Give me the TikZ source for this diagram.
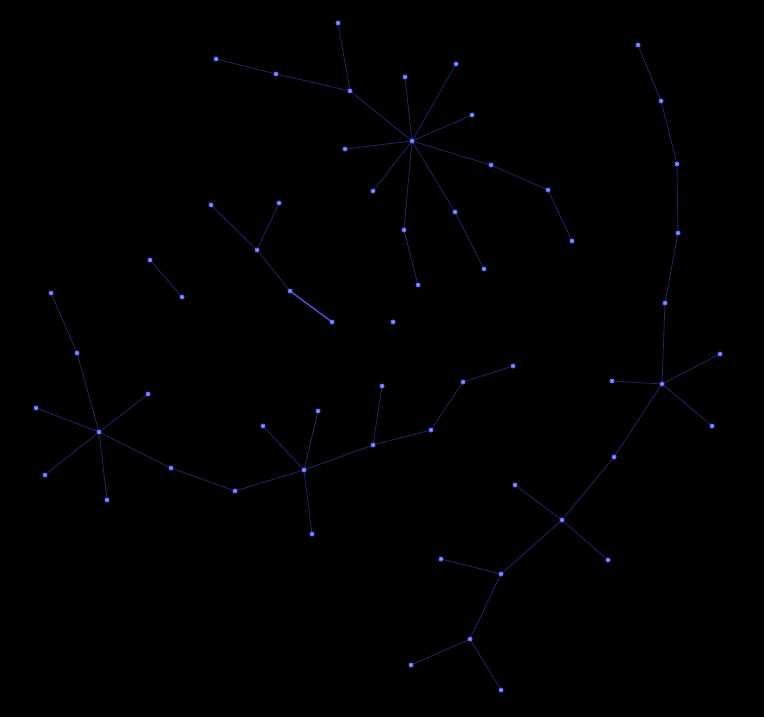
\documentclass[tikz,border=0pt]{standalone}
\definecolor{edgec}{HTML}{24246C}
\definecolor{edgeb}{HTML}{5050E0}
\definecolor{dotc}{HTML}{5A6CFF}
\definecolor{dotin}{HTML}{A8B4FF}
\tikzset{
  v/.style={circle,fill=dotc,inner sep=0pt,minimum size=5pt,path picture={\fill[dotin] (path picture bounding box.center) circle (1pt);}},
  e/.style={draw=edgec,line width=0.8pt},
  eb/.style={draw=edgeb,line width=1.4pt}
}
\begin{document}
\begin{tikzpicture}[x=1pt,y=-1pt]
\fill[black] (0,0) rectangle (764,717);
\useasboundingbox (0,0) rectangle (764,717);
\foreach \n/\x/\y in {a0/412/141,a1/350/91,a2/405/77,a3/456/64,a4/472/115,a5/491/165,a6/455/212,a7/404/230,a8/373/191,a9/345/149,
 b1/338/23,b2/276/74,b3/216/59,c1/548/190,c2/572/241,d1/484/269,d2/418/285,
 m0/257/250,m1/211/205,m2/279/203,m3/290/291,m4/332/322,p1/150/260,p2/182/297,iso/393/322,
 l0/99/432,l1/77/353,l2/36/408,l3/148/394,l4/45/475,l5/107/500,l6/171/468,l7/51/293,l8/235/491,
 s0/304/470,s1/263/426,s2/318/411,s3/312/534,s4/373/445,s5/382/386,s6/431/430,s7/463/382,s8/513/366,
 r1/638/45,r2/661/101,r3/677/164,r4/678/233,r5/665/303,r0/662/384,r6/612/381,r7/720/354,r8/712/426,r9/614/457,
 q0/562/520,q1/515/485,q2/608/560,q3/501/574,q4/441/559,q5/470/639,q6/411/665,q7/501/690}
  \coordinate (\n) at (\x,\y);
\foreach \u/\w in {a0/a1,a0/a2,a0/a3,a0/a4,a0/a5,a0/a6,a0/a7,a0/a8,a0/a9,a1/b1,a1/b2,b2/b3,a5/c1,c1/c2,a6/d1,a7/d2,
 m0/m1,m0/m2,m0/m3,p1/p2,
 l0/l1,l0/l2,l0/l3,l0/l4,l0/l5,l0/l6,l1/l7,l6/l8,l8/s0,
 s0/s1,s0/s2,s0/s3,s0/s4,s4/s5,s4/s6,s6/s7,s7/s8,
 r1/r2,r2/r3,r3/r4,r4/r5,r5/r0,r0/r6,r0/r7,r0/r8,r0/r9,r9/q0,q0/q1,q0/q2,q0/q3,q3/q4,q3/q5,q5/q6,q5/q7}
  \draw[e] (\u) -- (\w);
\draw[eb] (m3) -- (m4);
\foreach \n in {a0,a1,a2,a3,a4,a5,a6,a7,a8,a9,b1,b2,b3,c1,c2,d1,d2,m0,m1,m2,m3,m4,p1,p2,iso,
 l0,l1,l2,l3,l4,l5,l6,l7,l8,s0,s1,s2,s3,s4,s5,s6,s7,s8,r1,r2,r3,r4,r5,r0,r6,r7,r8,r9,q0,q1,q2,q3,q4,q5,q6,q7}
  \node[v] (n\n) at (\n) {};
\end{tikzpicture}
\end{document}
